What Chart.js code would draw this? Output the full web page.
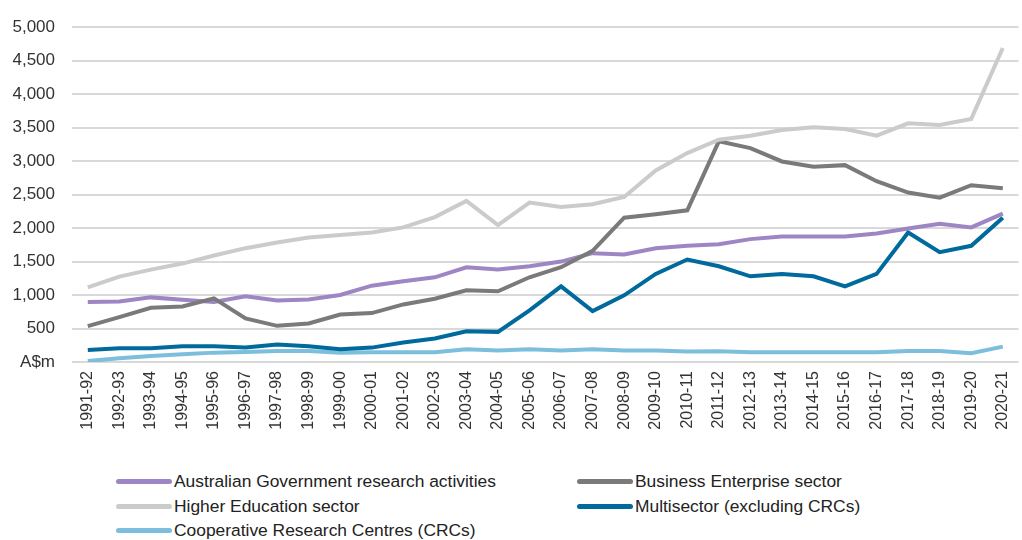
<!DOCTYPE html>
<html>
<head>
<meta charset="utf-8">
<script src="https://cdn.jsdelivr.net/npm/chart.js@4/dist/chart.umd.min.js"></script>
<style>
  html, body { margin: 0; padding: 0; background: #fff; overflow: hidden; }
  #wrap { position: relative; width: 1022px; height: 540px; overflow: hidden; }
  #box { position: absolute; left: 0; top: 0; width: 1031px; height: 450px; }
  #legend { position: absolute; left: 116px; top: 471px; width: 880px;
    font-family: "Liberation Sans", Arial, sans-serif; font-size: 17.4px; color: #222; }
  .item { position: absolute; display: flex; align-items: center; white-space: nowrap; }
  .item span.swatch { display: inline-block; width: 56px; height: 5px; border-radius: 3px; margin-right: 2px; }
</style>
</head>
<body>
<div id="wrap">
  <div id="box"><canvas id="rdChart"></canvas></div>
  <div id="legend"></div>
</div>
<script>
const years = ["1991-92","1992-93","1993-94","1994-95","1995-96","1996-97","1997-98","1998-99","1999-00","2000-01",
  "2001-02","2002-03","2003-04","2004-05","2005-06","2006-07","2007-08","2008-09","2009-10","2010-11",
  "2011-12","2012-13","2013-14","2014-15","2015-16","2016-17","2017-18","2018-19","2019-20","2020-21"]

const govResearch = [895, 905, 965, 930, 895, 980, 920, 935, 1000, 1140,
  1205, 1265, 1415, 1380, 1430, 1500, 1625, 1605, 1700, 1735,
  1760, 1835, 1875, 1875, 1875, 1920, 1995, 2065, 2010, 2215]
const businessSector = [535, 670, 810, 830, 950, 650, 540, 575, 710, 730,
  860, 945, 1070, 1055, 1265, 1415, 1660, 2155, 2205, 2265,
  3295, 3195, 2995, 2915, 2940, 2700, 2530, 2455, 2640, 2595]
const higherEd = [1115, 1275, 1380, 1470, 1590, 1700, 1785, 1860, 1895, 1935,
  2010, 2165, 2405, 2045, 2380, 2315, 2355, 2465, 2860, 3120,
  3320, 3380, 3465, 3505, 3480, 3380, 3565, 3540, 3630, 4690]
const multisector = [180, 205, 205, 235, 235, 215, 260, 235, 190, 215,
  290, 350, 460, 450, 770, 1130, 760, 995, 1315, 1530,
  1430, 1280, 1315, 1280, 1130, 1315, 1935, 1640, 1735, 2155]
const crcs = [15, 55, 90, 115, 140, 150, 165, 165, 140, 145,
  145, 145, 190, 170, 190, 170, 190, 170, 170, 155,
  160, 145, 145, 145, 145, 145, 165, 165, 130, 230]

const yTicks = [0, 500, 1000, 1500, 2000, 2500, 3000, 3500, 4000, 4500, 5000]

const series = [
  { label: "Australian Government research activities", data: govResearch, color: "#9d86c3" },
  { label: "Business Enterprise sector", data: businessSector, color: "#7a7a7a" },
  { label: "Higher Education sector", data: higherEd, color: "#cbcbcb" },
  { label: "Multisector (excluding CRCs)", data: multisector, color: "#006a9c" },
  { label: "Cooperative Research Centres (CRCs)", data: crcs, color: "#7cbedb" },
]

// draw order: CRCs/multisector under the others like the original
const drawOrder = [2, 1, 0, 3, 4]

const FONT = "'Liberation Sans', Arial, sans-serif"

const rdChart = new Chart(document.getElementById("rdChart"), {
  type: "line",
  data: {
    labels: years,
    datasets: series.map((s, i) => ({
      label: s.label,
      data: s.data,
      borderColor: s.color,
      backgroundColor: s.color,
      borderWidth: 4,
      pointRadius: 0,
      tension: 0,
      order: drawOrder[i],
    })),
  },
  options: {
    responsive: true,
    maintainAspectRatio: false,
    animation: false,
    layout: { padding: { top: 25, right: 0, left: 0, bottom: 0 } },
    plugins: { legend: { display: false }, tooltip: { enabled: false } },
    scales: {
      x: {
        offset: true,
        grid: { display: false, drawTicks: false },
        border: { display: false },
        ticks: {
          autoSkip: false,
          maxRotation: 90,
          minRotation: 90,
          padding: 9,
          color: "#333",
          font: { family: FONT, size: 16 },
        },
        afterFit: (axis) => { axis.height = 88 },
      },
      y: {
        min: 0,
        max: 5000,
        afterBuildTicks: (axis) => { axis.ticks = yTicks.map((v) => ({ value: v })) },
        grid: { color: "#d9d9d9", lineWidth: 2, drawTicks: false },
        border: { display: false },
        ticks: {
          padding: 17,
          color: "#333",
          font: { family: FONT, size: 17 },
          callback: (v) => (v === 0 ? "A$m" : v.toLocaleString("en-US")),
        },
        afterFit: (axis) => { axis.width = 72 },
      },
    },
  },
})

// legend in two columns like the original
const legendEl = document.getElementById("legend")
const legendPos = [[0, 0], [461, 0], [0, 24.5], [461, 24.5], [0, 49]]
series.forEach((s, i) => {
  const item = document.createElement("div")
  item.className = "item"
  item.style.left = legendPos[i][0] + "px"
  item.style.top = legendPos[i][1] + "px"
  item.innerHTML = '<span class="swatch" style="background:' + s.color + '"></span>' + s.label
  legendEl.appendChild(item)
})
</script>
</body>
</html>
